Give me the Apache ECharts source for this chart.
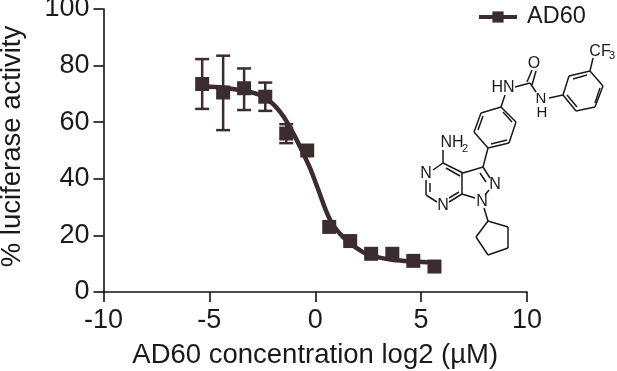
<!DOCTYPE html>
<html><head><meta charset="utf-8">
<style>html,body{margin:0;padding:0;background:#fff}#c{width:617px;height:371px}</style>
<script src="https://cdn.jsdelivr.net/npm/echarts@6/dist/echarts.min.js"></script>
</head><body><div id="c"></div>
<script>
const seriesName = 'AD60';
const pointX = [-5.34,-4.35,-3.36,-2.36,-1.37,-0.38,0.66,1.65,2.64,3.64,4.63,5.63];
const pointY = [73.5,70.5,72,69,56,50,23,18,13.5,13.5,11,9];
const errLow  = [64.7,57.2,64.3,64,52.6,50,21,17,12.5,11,10,8];
const errHigh = [82.3,83.5,79,74,59.3,50,25,19,14.5,16,12,10];
const curveX = [-5.3,-4.3,-3.3,-2.6,-2,-1.5,-1,-0.6,-0.23,0.1,0.7,1.33,2.27,2.93,3.7,4.6,5.63];
const curveY = [72.6,72.2,71,69.5,66.5,62,55.5,49.5,43.5,37,25.5,19.3,14,12.3,11.3,10.8,10.4];
const xTicks = {min:-10,max:10,interval:5};
const yTicks = {min:0,max:100,interval:20};
const ink = '#3b2c30';
const mol = '#1a1a1a';
// chemical structure inset (annotation, page pixels)
const bonds = [
 [593,58,590,71],[590,71,603,86],[603,86,595,107],[595,107,576,111],[576,111,563,95],[563,95,569,76],[569,76,590,71],
 [573,79,587,75],[600,88,595,103],[577,107,567,95],
 [563,95,549,98],[530,83,536,92],[527,82,532,70],[532,85,536,71],[515,87,530,83],[505,95,501,107],
 [501,107,516,122],[516,122,509,143],[509,143,488,148],[488,148,474,132],[474,132,481,113],[481,113,501,107],
 [503,112,512,122],[491,144,507,140],[478,130,483,116],
 [488,148,483,167],[483,167,490,178],[480,173,486,182],[489,190,485,195],[475,198,462,194],
 [463,173,483,167],[462,173,462,194],[443,163,463,173],[446,168,460,176],[443,163,443,150],[443,163,433,170],
 [426,180,426,195],[430,183,430,192],[426,195,437,202],[449,202,462,194],[449,198,459,192],
 [484,208,488,221],[488,221,508,227],[508,227,508,248],[508,248,488,255],[488,255,476,237],[476,237,488,221]
];
const atoms = [
 ['CF',600,52,16],['3',612,56,11],['O',534,64,16],['HN',503,88,16],['N',541,99,15],['H',542,113,15],
 ['NH',452,143,16],['2',465,149,11],['N',426,174,16],['N',443,206,16],['N',495,185,16],['N',482,202,16]
];
const graphic = bonds.map(b=>({type:'line',silent:true,shape:{x1:b[0],y1:b[1],x2:b[2],y2:b[3]},style:{stroke:mol,lineWidth:1.5}}))
 .concat(atoms.map(a=>({type:'text',silent:true,x:a[1],y:a[2],style:{text:a[0],fill:mol,font:a[3]+'px "Liberation Sans"',align:'center',verticalAlign:'middle'}})));
const axisCommon = {
 axisLine:{show:true,onZero:false,lineStyle:{color:'#111',width:1.6}},
 axisTick:{show:true,length:10,lineStyle:{color:'#111',width:1.6}},
 axisLabel:{color:'#1a1a1a',fontFamily:'Liberation Sans',fontSize:27},
 splitLine:{show:false},
 nameLocation:'middle',
 nameTextStyle:{color:'#1a1a1a',fontFamily:'Liberation Sans',fontSize:27.5}
};
const chart = echarts.init(document.getElementById('c'),null,{renderer:'canvas'});
chart.setOption({
 animation:false,
 backgroundColor:'#fff',
 grid:{left:103.5,right:90,top:9,bottom:79,containLabel:false,outerBoundsMode:'none'},
 xAxis:Object.assign({type:'value',name:'AD60 concentration log2 (µM)',nameGap:49},xTicks,axisCommon,{axisLabel:Object.assign({},axisCommon.axisLabel,{margin:15})}),
 yAxis:Object.assign({type:'value',name:'% luciferase activity',nameGap:77},yTicks,axisCommon,{
  axisLabel:Object.assign({},axisCommon.axisLabel,{margin:14}),
  nameTextStyle:Object.assign({},axisCommon.nameTextStyle,{padding:[0,0,0,8]})}),
 legend:{show:true,data:[seriesName],left:472,top:0,itemWidth:38,itemHeight:14,
  lineStyle:{width:4,color:ink},
  textStyle:{color:'#1a1a1a',fontFamily:'Liberation Sans',fontSize:23.5,padding:[0,0,0,5]}},
 series:[
  {name:seriesName,type:'line',smooth:0.3,symbol:'rect',symbolSize:15,showSymbol:false,
   lineStyle:{color:ink,width:4.5},itemStyle:{color:ink},
   data:curveX.map((x,i)=>[x,curveY[i]]),z:3},
  {type:'custom',silent:true,z:2,
   data:pointX.map((x,i)=>[x,errLow[i],errHigh[i]]).filter((d,i)=>i<5),
   renderItem:(p,api)=>{
    const lo=api.coord([api.value(0),api.value(1)]),hi=api.coord([api.value(0),api.value(2)]);
    const s={stroke:ink,lineWidth:2.5};
    const line=(a,b,c,d)=>({type:'line',shape:{x1:a,y1:b,x2:c,y2:d},style:s});
    return {type:'group',children:[line(lo[0],lo[1],hi[0],hi[1]),line(lo[0]-7,lo[1],lo[0]+7,lo[1]),line(hi[0]-7,hi[1],hi[0]+7,hi[1])]};
   }},
  {type:'scatter',silent:true,symbol:'rect',symbolSize:14,itemStyle:{color:ink,opacity:1},z:4,
   data:pointX.map((x,i)=>[x,pointY[i]])}
 ],
 graphic:graphic
});
</script></body></html>
